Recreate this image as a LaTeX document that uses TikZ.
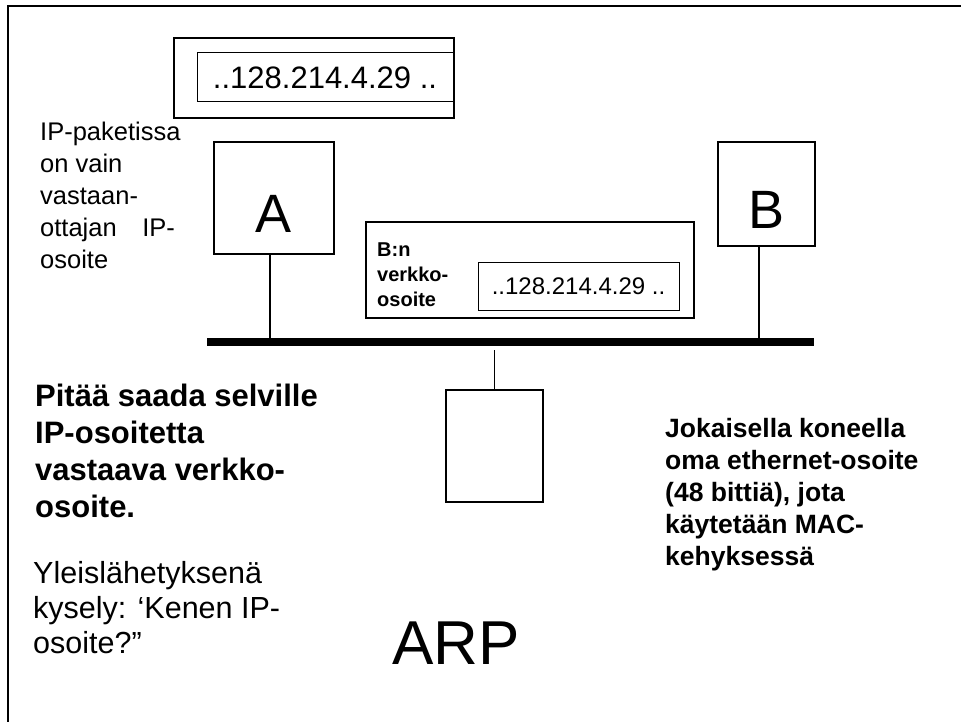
\documentclass[tikz,border=0pt]{standalone}
\usepackage{fontspec}
\setmainfont{Liberation Sans}
\usetikzlibrary{positioning}

\newcommand{\txtsize}[2]{\fontsize{#1}{#2}\selectfont}

\tikzset{
  host/.style={draw, line width=1.2pt, inner sep=0pt, text height=70pt,
    font=\txtsize{54}{60}},
  addr/.style={draw, line width=1pt, inner sep=0pt},
  note/.style={align=left, inner sep=0pt, anchor=base west},
  tap/.style={line width=1.2pt},
}

\begin{document}
\begin{tikzpicture}[x=1pt,y=-1pt]
\useasboundingbox (0,0) rectangle (961,722);
\draw[line width=2pt] (8,722) -- (8,6) -- (961,6);

% IP-paketti
\node[draw, line width=1.8pt, minimum width=280, minimum height=80, inner sep=0pt] (pkt) at (314,78) {};
\node[addr, minimum width=256, minimum height=49, font=\txtsize{31}{36}] (pktaddr) at (325,77.5) {..128.214.4.29 ..};

% note: base = last line
\node[note, font=\txtsize{25.5}{31.75}] (ipnote) at (40,268)
  {IP-paketissa\\on vain\\vastaan-\\ottajan\quad IP-\\osoite};

% koneet
\node[host, minimum width=120, minimum height=112] (hosta) at (274,198) {A};
\node[host, minimum width=97, minimum height=104] (hostb) at (766.5,194) {B};
\node[host, minimum width=97, minimum height=112] (hostc) at (494.5,446) {};

% verkko
\coordinate (busw) at (207,342);
\coordinate (buse) at (814,342);
\coordinate (ctap) at (494,350);
\draw[line width=8pt] (busw) -- (buse);
\draw[tap] ([xshift=-4]hosta.south) -- ([xshift=-4]hosta.south |- busw);
\draw[tap] ([xshift=-7.5]hostb.south) -- ([xshift=-7.5]hostb.south |- busw);
\draw[tap] (hostc.north) -- (hostc.north |- ctap);

% MAC-kehys
\node[draw, line width=1.2pt, minimum width=328, minimum height=96, inner sep=0pt] (frame) at (530,270) {};
\node[note, font=\bfseries\txtsize{20}{25}] (maclbl) at (377,306) {B:n\\verkko-\\osoite};
\node[addr, minimum width=201, minimum height=48, font=\txtsize{24}{28}] (macaddr) at (578.5,286) {..128.214.4.29 ..};

% tekstit
\node[note, font=\bfseries\txtsize{31}{36.7}] (goal) at (35,517)
  {Pitää saada selville\\IP-osoitetta\\vastaava verkko-\\osoite.};
\node[note, font=\txtsize{30.5}{35}] (query) at (33,653)
  {Yleislähetyksenä\\kysely: ‘Kenen IP-\\osoite?”};
\node[note, font=\txtsize{62}{70}] (arp) at (392,664) {ARP};
\node[note, font=\bfseries\txtsize{26.5}{32}] (ether) at (665,565)
  {Jokaisella koneella\\oma ethernet-osoite\\(48 bittiä), jota\\käytetään MAC-\\kehyksessä};
\end{tikzpicture}
\end{document}
